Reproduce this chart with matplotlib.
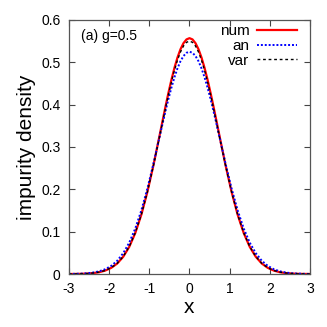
import numpy as np
import matplotlib
matplotlib.use("Agg")
import matplotlib.pyplot as plt
import matplotlib as mpl
from matplotlib import font_manager

names = set(f.name for f in font_manager.fontManager.ttflist)
fam = "Liberation Sans Narrow" if "Liberation Sans Narrow" in names else "Liberation Sans"
mpl.rcParams['font.family'] = [fam, 'DejaVu Sans']

# data (x >= 0 half, profile is symmetric)
half_x = [0, 0.075, 0.15, 0.225, 0.3, 0.375, 0.45, 0.525, 0.6, 0.675, 0.75, 0.9, 1.05, 1.2, 1.35,
          1.5, 1.65, 1.8, 1.95, 2.1, 2.25, 2.4, 2.55, 2.7, 2.85, 3.0]
half_num = [0.557, 0.5540, 0.5451, 0.5306, 0.5109, 0.4867, 0.4586, 0.4275, 0.3942, 0.3597, 0.3246,
            0.2559, 0.1933, 0.1398, 0.0968, 0.0642, 0.0408, 0.0248, 0.0145, 0.0081, 0.0043,
            0.0022, 0.0011, 0.0005, 0.0002, 0.0001]
half_an = [0.525, 0.5224, 0.5148, 0.5024, 0.4855, 0.4645, 0.4402, 0.4131, 0.3838, 0.3532, 0.3218,
           0.2595, 0.2012, 0.1500, 0.1075, 0.0741, 0.0492, 0.0313, 0.0192, 0.0113, 0.0064,
           0.0035, 0.0018, 0.0009, 0.0004, 0.0002]
half_var = [0.550, 0.5471, 0.5384, 0.5242, 0.5049, 0.4812, 0.4537, 0.4233, 0.3907, 0.3568, 0.3223,
            0.2548, 0.1930, 0.1400, 0.0974, 0.0649, 0.0414, 0.0253, 0.0148, 0.0083, 0.0045,
            0.0023, 0.0011, 0.0005, 0.0002, 0.0001]
x = [-v for v in half_x[:0:-1]] + half_x
num = half_num[:0:-1] + half_num
an = half_an[:0:-1] + half_an
var = half_var[:0:-1] + half_var

xticks = [-3, -2, -1, 0, 1, 2, 3]
yticks = [0, 0.1, 0.2, 0.3, 0.4, 0.5, 0.6]
yticklabels = ['0', '0.1', '0.2', '0.3', '0.4', '0.5', '0.6']

fig = plt.figure(figsize=(3.27, 3.27), dpi=100)
ax = fig.add_axes([0.211, 0.162, 0.737, 0.777])

ax.plot(x, num, color='#ff0000', lw=1.6, label='num')
ax.plot(x, an, color='#0000ff', lw=1.4, ls=(0, (1, 1)), label='an')
ax.plot(x, var, color='black', lw=1.0, ls=(0, (2, 2)), label='var')

ax.set_xlim(-3, 3)
ax.set_ylim(0, 0.6)
ax.set_xticks(xticks)
ax.set_xticklabels([str(t) for t in xticks])
ax.set_yticks(yticks)
ax.set_yticklabels(yticklabels)
ax.tick_params(direction='in', top=True, right=True, length=4, width=0.8,
               labelsize=10, pad=6, color='#444444')
for s in ax.spines.values():
    s.set_color('#555555')
    s.set_linewidth(0.9)

ax.set_xlabel('x', fontsize=15, labelpad=1)
ax.set_ylabel('impurity density', fontsize=15, labelpad=4)
ax.text(0.05, 0.935, '(a) g=0.5', transform=ax.transAxes, fontsize=10, va='center')

ax.legend(loc='upper right', frameon=False, markerfirst=False, fontsize=11,
          handlelength=2.6, handletextpad=0.5, labelspacing=0.05,
          borderaxespad=0.3, bbox_to_anchor=(0.99, 1.025))

fig.savefig('out.png', dpi=100)
